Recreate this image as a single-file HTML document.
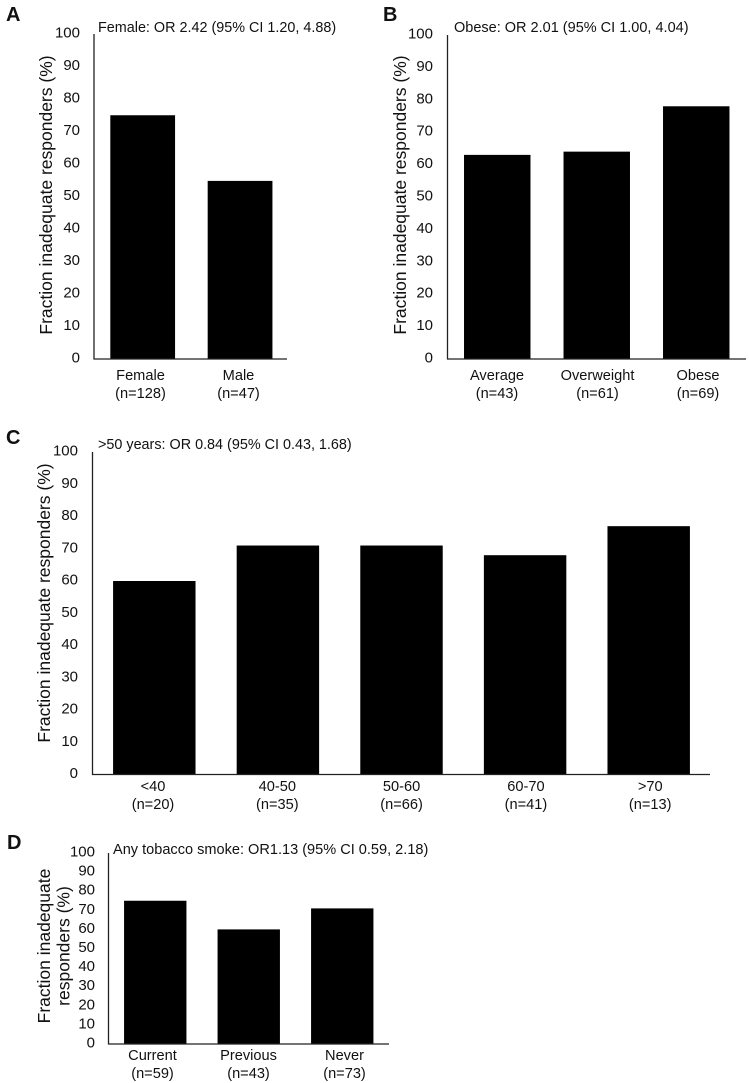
<!DOCTYPE html>
<html lang="en">
<head>
<meta charset="utf-8">
<title>Fraction of inadequate responders by subgroup</title>
<style>
html,body{margin:0;padding:0;background:#fff;}
#figure{display:block;width:749px;height:1083px;filter:blur(0.3px);}
text{font-family:"Liberation Sans",Arial,sans-serif;fill:#111;}
</style>
</head>
<body>
<svg id="figure" xmlns="http://www.w3.org/2000/svg" width="749" height="1083" viewBox="0 0 749 1083"></svg>
<script>
// Shared y axis
const yTicks = [0, 10, 20, 30, 40, 50, 60, 70, 80, 90, 100];

// Panel A
const catsA = ['Female', 'Male'];
const countsA = ['(n=128)', '(n=47)'];
const valuesA = [75, 54.8];

// Panel B
const catsB = ['Average', 'Overweight', 'Obese'];
const countsB = ['(n=43)', '(n=61)', '(n=69)'];
const valuesB = [63, 64, 78];

// Panel C
const catsC = ['<40', '40-50', '50-60', '60-70', '>70'];
const countsC = ['(n=20)', '(n=35)', '(n=66)', '(n=41)', '(n=13)'];
const valuesC = [60, 71, 71, 68, 77];

// Panel D
const catsD = ['Current', 'Previous', 'Never'];
const countsD = ['(n=59)', '(n=43)', '(n=73)'];
const valuesD = [75, 60, 71];

const svg = document.getElementById('figure');
const NS = 'http://www.w3.org/2000/svg';

function add(tag, attrs, text) {
  const el = document.createElementNS(NS, tag);
  for (const k in attrs) el.setAttribute(k, attrs[k]);
  if (text !== undefined) el.textContent = text;
  svg.appendChild(el);
  return el;
}

function drawPanel(p) {
  const yScale = v => p.bottom - (v / 100) * (p.bottom - p.top);
  const band = (p.bandRight - p.left) / p.cats.length;
  const xCenter = i => p.left + band * (i + 0.5);
  const labelX = i => p.labelStart + i * p.labelStep;
  const barW = band * p.barRatio;

  let el = add('text', {x: p.letterX, y: p.letterY, 'font-size': 20, 'font-weight': 'bold', fill: '#000'}, p.letter);
  
  

  el = add('text', {x: p.noteX, y: p.noteY, 'font-size': p.noteSize}, p.note);
  
  

  p.values.forEach((v, i) => {
    const bar = add('rect', {x: xCenter(i) - barW / 2, y: yScale(v), width: barW, height: yScale(0) - yScale(v), fill: '#000'});
    
    

    const cat = add('text', {x: labelX(i), y: p.catY, 'font-size': 14.6, 'text-anchor': 'middle'}, p.cats[i]);
    
    

    const cnt = add('text', {x: labelX(i), y: p.catY + 18, 'font-size': 14.6, 'text-anchor': 'middle'}, p.counts[i]);
    
    
  });

  yTicks.forEach(t => {
    const tick = add('text', {x: p.tickX, y: yScale(t) + 3.5, 'font-size': 15, 'text-anchor': 'end'}, String(t));
    
    
  });

  el = add('line', {x1: p.left, x2: p.left, y1: p.top, y2: p.bottom + 0.5, stroke: '#222', 'stroke-width': 1.3});
  
  

  el = add('line', {x1: p.left - 0.5, x2: p.right, y1: p.bottom, y2: p.bottom, stroke: '#222', 'stroke-width': 1.3});
  
  

  p.yTitle.forEach((line, i) => {
    const x = p.yTitleX + i * 19.5;
    const t = add('text', {x: x, y: p.yTitleY, 'font-size': 17.5, 'text-anchor': 'middle', transform: 'rotate(-90 ' + x + ' ' + p.yTitleY + ')'}, line);
    
    
  });
}

drawPanel({letter: 'A', letterX: 6, letterY: 21, note: 'Female: OR 2.42 (95% CI 1.20, 4.88)', noteX: 98, noteY: 32, noteSize: 14.38,
  cats: catsA, counts: countsA, values: valuesA, left: 94, right: 287, bandRight: 288.75, top: 34, bottom: 359, barRatio: 0.665,
  catY: 380, labelStart: 140.5, labelStep: 98, tickX: 80, yTitle: ['Fraction inadequate responders (%)'], yTitleX: 52, yTitleY: 195});

drawPanel({letter: 'B', letterX: 383, letterY: 21, note: 'Obese: OR 2.01 (95% CI 1.00, 4.04)', noteX: 454, noteY: 32, noteSize: 14.5,
  cats: catsB, counts: countsB, values: valuesB, left: 447.5, right: 746, bandRight: 746, top: 35, bottom: 359, barRatio: 0.668,
  catY: 380, labelStart: 497, labelStep: 100.5, tickX: 433, yTitle: ['Fraction inadequate responders (%)'], yTitleX: 406, yTitleY: 195});

drawPanel({letter: 'C', letterX: 6, letterY: 444, note: '>50 years: OR 0.84 (95% CI 0.43, 1.68)', noteX: 98, noteY: 449, noteSize: 14.38,
  cats: catsC, counts: countsC, values: valuesC, left: 92.5, right: 710, bandRight: 710.5, top: 452, bottom: 774.5, barRatio: 0.667,
  catY: 791, labelStart: 153, labelStep: 124.3, tickX: 78, yTitle: ['Fraction inadequate responders (%)'], yTitleX: 50, yTitleY: 603});

drawPanel({letter: 'D', letterX: 7, letterY: 849, note: 'Any tobacco smoke: OR1.13 (95% CI 0.59, 2.18)', noteX: 113, noteY: 854, noteSize: 14.55,
  cats: catsD, counts: countsD, values: valuesD, left: 108.5, right: 389, bandRight: 389, top: 853, bottom: 1044, barRatio: 0.667,
  catY: 1060, labelStart: 152.5, labelStep: 96, tickX: 95, yTitle: ['Fraction inadequate', 'responders (%)'], yTitleX: 50, yTitleY: 946});
</script>
</body>
</html>
